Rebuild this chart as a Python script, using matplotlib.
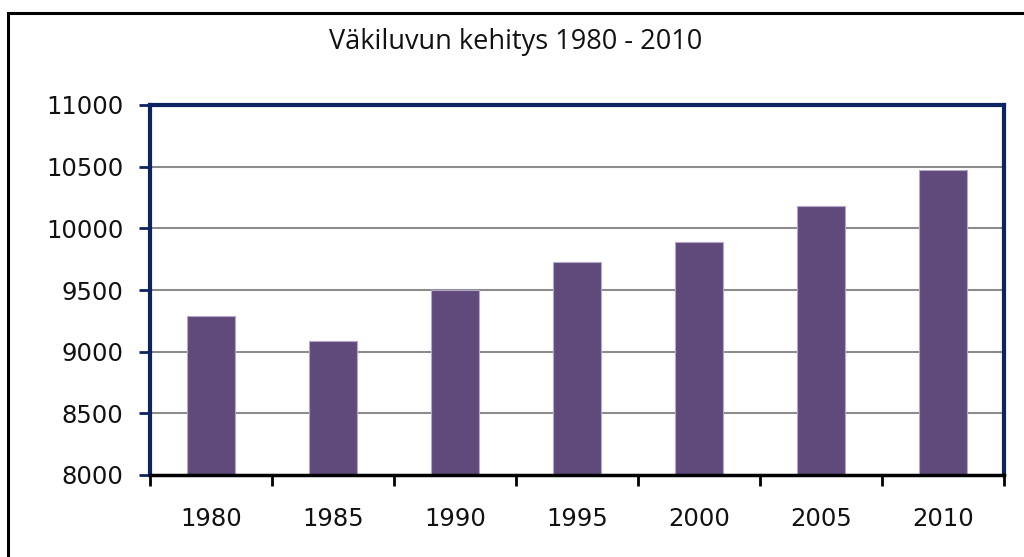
import matplotlib
matplotlib.use("Agg")
import matplotlib.pyplot as plt
from matplotlib.patches import Rectangle
import numpy as np

years = ["1980", "1985", "1990", "1995", "2000", "2005", "2010"]
population = [9290, 9090, 9500, 9725, 9890, 10180, 10475]
title = "Väkiluvun kehitys 1980 - 2010"

plt.rcParams["font.family"] = ["DejaVu Sans"]

fig = plt.figure(figsize=(10.24, 5.57), dpi=100)
ax = fig.add_axes([150 / 1024, 82 / 557, 854 / 1024, 370 / 557])

# outer frame of the chart object
fig.patches.append(Rectangle((7.5 / 1024, -0.1), 1.2, 1.1 - 12.5 / 557,
                             transform=fig.transFigure, fill=False,
                             edgecolor="black", linewidth=2.2))

x = np.arange(len(years))
ax.bar(x, [p - 8000 for p in population], bottom=8000, width=0.4,
       color="#604a7b", edgecolor="#b3a8c9", linewidth=0.8, zorder=3)

ax.set_xlim(-0.5, len(years) - 0.5)
ax.set_ylim(8000, 11000)
ax.set_yticks(range(8000, 11001, 500))
ax.yaxis.grid(True, color="#8c8c8c", linewidth=1.5, zorder=0)

ax.set_xticks(x)
ax.set_xticklabels(years)
ax.set_xticks(np.arange(-0.5, len(years)), minor=True)
ax.tick_params(axis="x", which="major", length=0, pad=23, labelsize=17.5,
               labelcolor="#111111")
ax.tick_params(axis="x", which="minor", length=8, width=2, color="black",
               direction="out")
ax.tick_params(axis="y", length=8, width=2, color="#0c2461", pad=11,
               labelsize=17.5, labelcolor="#111111")

navy = "#0c2461"
for side in ["left", "top", "right"]:
    ax.spines[side].set_color(navy)
    ax.spines[side].set_linewidth(3)
ax.spines["bottom"].set_color("black")
ax.spines["bottom"].set_linewidth(2.5)
ax.spines["bottom"].set_zorder(5)

fig.text(516 / 1024, 1 - 42 / 557, title, ha="center", va="center",
         fontsize=19.5, family=["Open Sans", "DejaVu Sans"], color="#111111")

fig.savefig("out.png", dpi=100)
